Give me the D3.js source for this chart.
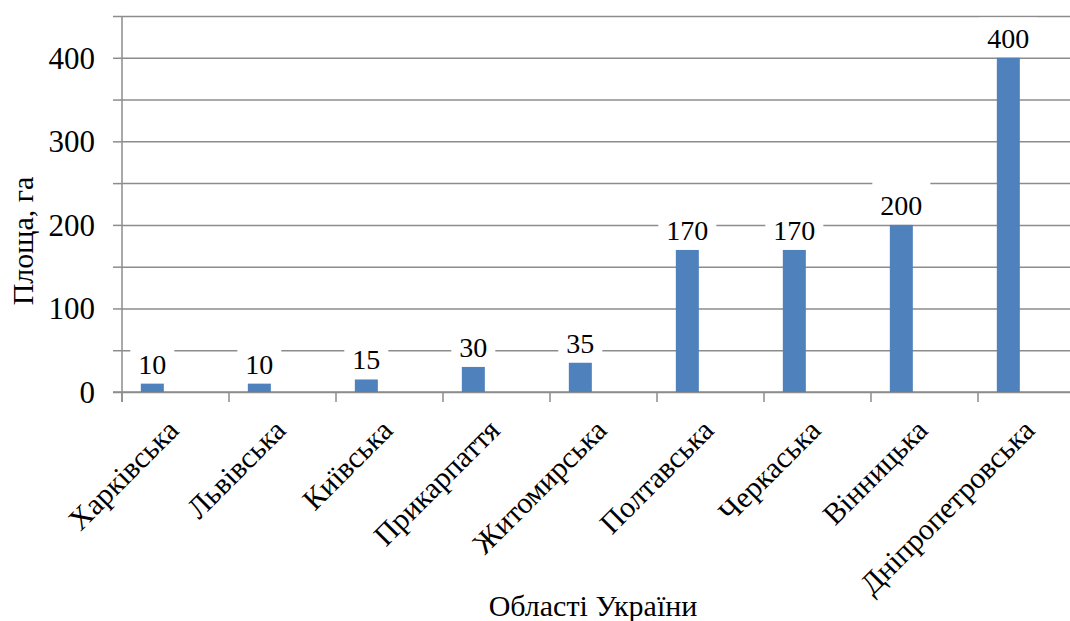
<!DOCTYPE html>
<html>
<head>
<meta charset="utf-8">
<script src="https://cdn.jsdelivr.net/npm/d3@7"></script>
<style>
  html, body { margin: 0; padding: 0; background: #fff; }
  svg { display: block; }
</style>
</head>
<body>
<svg id="chart" width="1070" height="621"></svg>
<script>
const categories = ["Харківська", "Львівська", "Київська", "Прикарпаття", "Житомирська", "Полтавська", "Черкаська", "Вінницька", "Дніпропетровська"];
const values = [10, 10, 15, 30, 35, 170, 170, 200, 400];
const yGridTicks = [0, 50, 100, 150, 200, 250, 300, 350, 400, 450];
const yTickLabels = [0, 100, 200, 300, 400];
const yTitle = "Площа, га";
const xTitle = "Області України";

(function () {
const W = 1070, H = 621;
const plotLeft = 122, plotTop = 16, plotBottom = 392;
const step = 107;
const FONT = "'Liberation Serif', 'Times New Roman', Tinos, 'DejaVu Serif', serif";
const svg = d3.select("#chart").attr("font-family", FONT);
svg.append("rect").attr("width", W).attr("height", H).attr("fill", "#fff");

const x = d3.scaleBand().domain(categories).range([plotLeft, plotLeft + step * categories.length]).paddingInner(0).paddingOuter(0);
const y = d3.scaleLinear().domain([0, 450]).range([plotBottom, plotTop]);
const bw = x.bandwidth();
const gridColor = "#8c8c8c";

// gridlines
const grid = svg.append("g").attr("transform", `translate(${plotLeft},0)`)
  .call(d3.axisLeft(y).tickValues(yGridTicks).tickSize(-(W - plotLeft + 20)).tickFormat(""));
grid.select(".domain").remove();
grid.selectAll("line").attr("stroke", gridColor).attr("stroke-width", 1.5);

// left tick marks
const yTicks = svg.append("g").attr("transform", `translate(${plotLeft},0)`)
  .call(d3.axisLeft(y).tickValues(yGridTicks).tickSize(9).tickFormat(""));
yTicks.select(".domain").remove();
yTicks.selectAll("line").attr("stroke", gridColor).attr("stroke-width", 1.5);

// y tick labels
svg.append("g").selectAll("text").data(yTickLabels).join("text")
  .attr("font-family", FONT)
  .attr("x", 95).attr("y", d => y(d)).attr("dy", "0.35em")
  .attr("text-anchor", "end").attr("font-size", 31).attr("fill", "#000").text(d => d);

// y axis line
svg.append("line").attr("x1", plotLeft).attr("x2", plotLeft).attr("y1", plotTop).attr("y2", plotBottom + 10)
  .attr("stroke", gridColor).attr("stroke-width", 1.5);

// x axis
const xAxis = svg.append("g").attr("transform", `translate(0,${plotBottom})`)
  .call(d3.axisBottom(x).tickSize(0).tickFormat(""));
xAxis.select(".domain").attr("stroke", gridColor).attr("stroke-width", 1.5).attr("d", `M${plotLeft - 9},0H${W + 20}`);
svg.append("g").selectAll("line").data(categories).join("line")
  .attr("x1", d => x(d)).attr("x2", d => x(d)).attr("y1", plotBottom).attr("y2", plotBottom + 10)
  .attr("stroke", gridColor).attr("stroke-width", 1.5);

// bars
const barOff = bw * 0.176, barW = bw * 0.215;
svg.append("g").selectAll("rect").data(values).join("rect")
  .attr("x", (d, i) => x(categories[i]) + barOff)
  .attr("width", barW)
  .attr("y", d => y(d))
  .attr("height", d => y(0) - y(d))
  .attr("fill", "#4F81BD");

// data labels with white background (clipped to plot area top)
const lbl = svg.append("g").selectAll("g").data(values).join("g")
  .attr("transform", (d, i) => `translate(${x(categories[i]) + barOff + barW / 2},${y(d) - 10})`);
lbl.append("text").attr("font-family", FONT).attr("text-anchor", "middle").attr("font-size", 28).attr("fill", "#000").text(d => d)
  .each(function (d) {
    const b = this.getBBox();
    const base = y(d) - 10;
    const boxTop = Math.max(-33, plotTop + 1.5 - base);
    d3.select(this.parentNode).insert("rect", "text")
      .attr("x", b.x - 8).attr("width", b.width + 16)
      .attr("y", boxTop).attr("height", 4 - boxTop)
      .attr("fill", "#fff");
  });

// category labels
svg.append("g").selectAll("text").data(categories).join("text")
  .attr("font-family", FONT)
  .attr("text-anchor", "end").attr("font-size", 30).attr("fill", "#000")
  .attr("transform", d => `translate(${x(d) + bw / 2 + 5},${plotBottom + 40}) rotate(-45)`)
  .text(d => d);

// axis titles
svg.append("text").attr("font-family", FONT).attr("x", 593).attr("y", 616).attr("text-anchor", "middle").attr("font-size", 30).attr("fill", "#000").text(xTitle);
svg.append("text").attr("font-family", FONT).attr("transform", "translate(33,241) rotate(-90)").attr("text-anchor", "middle").attr("font-size", 30).attr("fill", "#000").text(yTitle);
})();
</script>
</body>
</html>
